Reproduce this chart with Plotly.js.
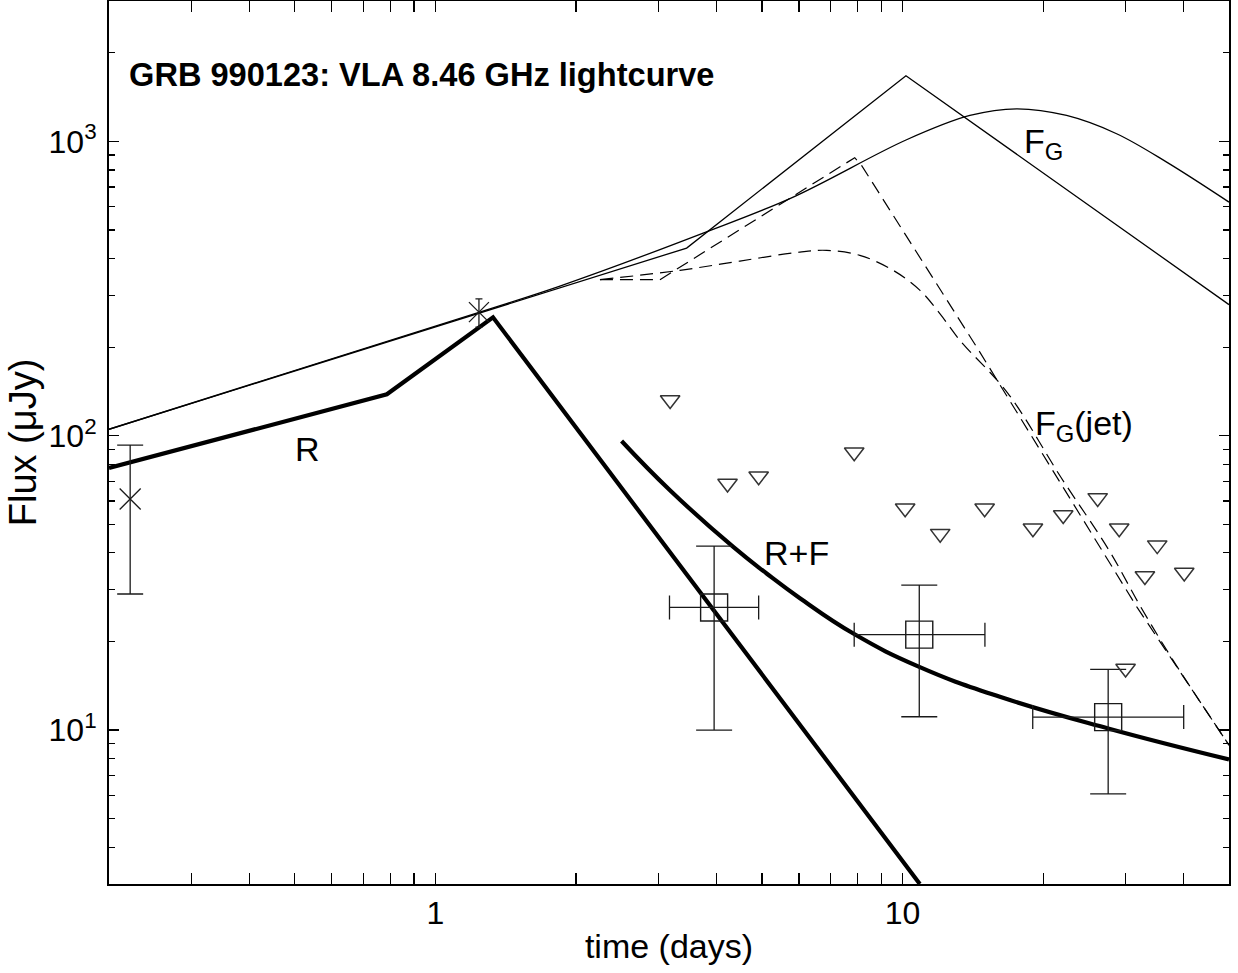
<!DOCTYPE html>
<html>
<head>
<meta charset="utf-8">
<script src="https://cdn.plot.ly/plotly-3.0.1.min.js"></script>
<style>html,body{margin:0;padding:0;background:#fff;}#chart{width:1238px;height:973px;}</style>
</head>
<body>
<div id="chart"></div>
<script>
// ---- Observations (time in days, flux in microJy) ----
const crossT = [0.222];
const crossF = [61];
const crossErr = [32];

const starT = [1.239];
const starF = [263];
const starErr = [29];

const detT = [3.95, 10.86, 27.56];
const detF = [26.1, 21.1, 11.07];
const detFerr = [16.1, 10.0, 5.0];
const detTminus = [0.78, 2.98, 8.56];
const detTplus = [0.97, 4.15, 12.43];

const limT = [3.18, 4.22, 4.92, 7.88, 10.13, 12.04, 14.99, 19.02, 22.08, 26.17, 29.10, 35.1, 33.03, 40.1, 30.03];
const limF = [132.3, 68.8, 72.9, 87.9, 56.7, 46.5, 56.7, 48.5, 53.8, 61.5, 48.5, 42.5, 33.4, 34.3, 16.2];

// ---- Model curves ----
const rT = [0.2, 0.787, 1.328, 10.89];
const rF = [77.7, 138.3, 252.6, 3.0];

const rfT = [2.503, 3.177, 4.341, 5.117, 6.03, 7.88, 10.86, 16.16, 27.56, 50];
const rfF = [96.0, 65.3, 41.9, 34.05, 28.07, 21.2, 16.4, 12.98, 10.13, 7.95];

const faT = [0.2, 3.45, 10.17, 50];
const faF = [105.2, 434.2, 1672, 279];

const fgT = [0.2, 1.239, 1.847, 3.743, 5.834, 10.2, 13.94, 17.55, 22.45, 28.73, 36.77, 50];
const fgF = [105.2, 262.7, 322.6, 488.2, 647.1, 1013, 1225, 1291, 1225, 1062, 850.6, 622.2];

const jetAT = [2.25, 3.024, 7.9, 8.17, 14.41, 21.4, 31.76, 50];
const jetAF = [339.1, 339.1, 880.7, 829, 200.3, 72.3, 26.17, 8.89];

const jetBT = [2.25, 3.338, 4.486, 6.03, 6.88, 8.1, 9.55, 10.9, 12.02, 13.27, 16.81, 21.83, 27.67, 32.38, 37.93, 50];
const jetBF = [339.1, 364.8, 392.3, 420.9, 426.5, 410.2, 364.8, 311.9, 260, 211, 139.4, 72.3, 40.85, 26.17, 17.29, 8.89];

// ---- Ticks ----
const xTickVals = [1, 10];
const xTickText = ['1', '10'];
const xMinor = [0.3, 0.4, 0.5, 0.6, 0.7, 0.8, 0.9, 2, 3, 4, 5, 6, 7, 8, 9, 20, 30, 40];
const yTickVals = [10, 100, 1000];
const yTickText = ['10<sup>1</sup>', '10<sup>2</sup>', '10<sup>3</sup>'];
const yMinor = [4, 5, 6, 7, 8, 9, 20, 30, 40, 50, 60, 70, 80, 90, 200, 300, 400, 500, 600, 700, 800, 900, 2000, 3000];

const FONT = 'Liberation Sans, Arial, Helvetica, sans-serif';
const L = Math.log10;
const INK = '#1a1a1a';

const traces = [
  {x: faT, y: faF, mode: 'lines', line: {color: '#000', width: 1.3}, hoverinfo: 'skip'},
  {x: fgT, y: fgF, mode: 'lines', line: {color: '#000', width: 1.3, shape: 'spline', smoothing: 1}, hoverinfo: 'skip'},
  {x: jetAT, y: jetAF, mode: 'lines', line: {color: '#000', width: 1.2, dash: '13px,7px'}, hoverinfo: 'skip'},
  {x: jetBT, y: jetBF, mode: 'lines', line: {color: '#000', width: 1.2, dash: '13px,7px', shape: 'spline', smoothing: 1}, hoverinfo: 'skip'},
  {x: rT, y: rF, mode: 'lines', line: {color: '#000', width: 4.2}, hoverinfo: 'skip'},
  {x: rfT, y: rfF, mode: 'lines', line: {color: '#000', width: 4.2, shape: 'spline', smoothing: 1.3}, hoverinfo: 'skip'},
  {x: crossT, y: crossF, mode: 'markers',
   marker: {symbol: 'x-thin-open', size: 21, color: INK, line: {color: INK, width: 1.3}},
   error_y: {type: 'data', array: crossErr, color: INK, thickness: 1.3, width: 13}},
  {x: starT, y: starF, mode: 'markers',
   marker: {symbol: 'x-thin-open', size: 20, color: INK, line: {color: INK, width: 1.3}},
   error_y: {type: 'data', array: starErr, color: INK, thickness: 1.3, width: 3.5}},
  {x: detT, y: detF, mode: 'markers',
   marker: {symbol: 'square-open', size: 27, color: INK, line: {color: INK, width: 1.4}},
   error_y: {type: 'data', array: detFerr, color: INK, thickness: 1.3, width: 18},
   error_x: {type: 'data', array: detTplus, arrayminus: detTminus, color: INK, thickness: 1.3, width: 12}},
  {x: limT, y: limF, mode: 'markers',
   marker: {symbol: 'triangle-down-open', size: 17, color: '#333', line: {color: '#333', width: 1.5}}}
];

const layout = {
  width: 1238, height: 973,
  margin: {l: 109, r: 9, t: 1, b: 89},
  paper_bgcolor: '#fff', plot_bgcolor: '#fff',
  showlegend: false,
  font: {family: FONT, color: '#000', size: 32},
  title: {
    text: 'GRB 990123: VLA 8.46 GHz lightcurve',
    font: {family: FONT, size: 32.6, weight: 'bold', color: '#000'},
    x: 0.0179, xref: 'paper', xanchor: 'left',
    y: 0.917, yref: 'paper', yanchor: 'middle'
  },
  xaxis: {
    type: 'log', range: [L(0.2), L(50)],
    showgrid: false, zeroline: false,
    showline: true, linecolor: '#000', linewidth: 2, mirror: 'allticks',
    ticks: 'inside', ticklen: 11, tickwidth: 1.2, tickcolor: '#000',
    tickmode: 'array', tickvals: xTickVals, ticktext: xTickText,
    tickfont: {family: FONT, size: 32, color: '#000'},
    ticklabelstandoff: 0,
    minor: {tickmode: 'array', tickvals: xMinor, ticks: 'inside', ticklen: 11, tickwidth: 1.2, tickcolor: '#000', showgrid: false},
    title: {text: 'time (days)', font: {family: FONT, size: 34, color: '#000'}, standoff: 4}
  },
  yaxis: {
    type: 'log', range: [L(3), L(3000)],
    showgrid: false, zeroline: false,
    showline: true, linecolor: '#000', linewidth: 2, mirror: 'allticks',
    ticks: 'inside', ticklen: 10, tickwidth: 1.2, tickcolor: '#000',
    tickmode: 'array', tickvals: yTickVals, ticktext: yTickText,
    tickfont: {family: FONT, size: 32, color: '#000'},
    ticklabelstandoff: 4,
    minor: {tickmode: 'array', tickvals: yMinor, ticks: 'inside', ticklen: 6, tickwidth: 1.2, tickcolor: '#000', showgrid: false},
    title: {text: 'Flux (μJy)', font: {family: FONT, size: 38, color: '#000'}, standoff: 0}
  },
  annotations: [
    {x: L(0.532), y: L(90.5), text: 'R', showarrow: false, font: {family: FONT, size: 34}, xanchor: 'center', yanchor: 'middle'},
    {x: L(5.93), y: L(40.05), text: 'R+F', showarrow: false, font: {family: FONT, size: 34}, xanchor: 'center', yanchor: 'middle'},
    {x: L(18.0), y: L(985), text: 'F<sub>G</sub>', showarrow: false, font: {family: FONT, size: 34}, xanchor: 'left', yanchor: 'middle'},
    {x: L(19.0), y: L(108), text: 'F<sub>G</sub>(jet)', showarrow: false, font: {family: FONT, size: 34}, xanchor: 'left', yanchor: 'middle'}
  ]
};

Plotly.newPlot('chart', traces, layout, {staticPlot: true, displayModeBar: false});
</script>
</body>
</html>
